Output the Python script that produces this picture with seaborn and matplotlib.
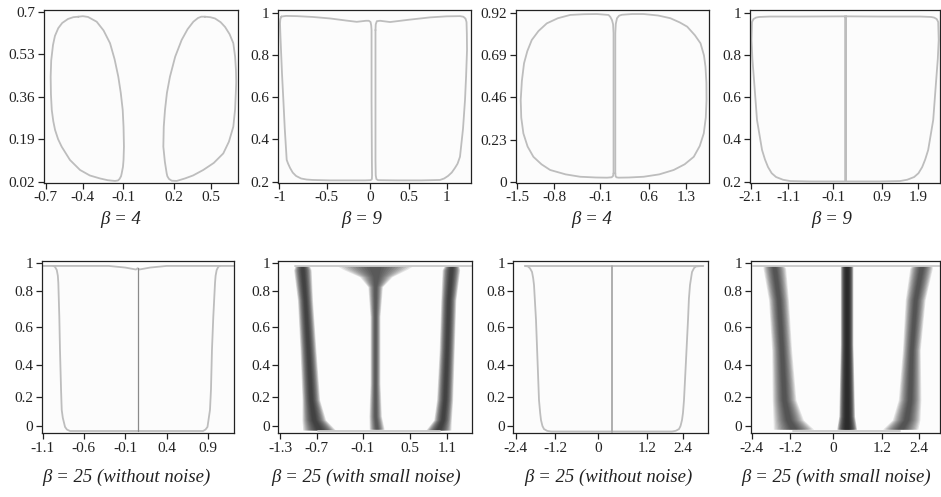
import matplotlib
matplotlib.use('Agg')
import matplotlib.pyplot as plt
import seaborn as sns
import numpy as np

sns.set_style('ticks')
plt.rcParams['font.family'] = ['Liberation Serif', 'DejaVu Serif']

LINE = '#bdbdbd'
DARK = '#222222'
W, H = 941, 497

# ---------- data ----------
# panel 1 : beta = 4, two closed loops
p1_left_x = [-0.463, -0.500, -0.538, -0.580, -0.609, -0.633, -0.647, -0.660, -0.664, -0.662, -0.656,
             -0.645, -0.632, -0.610, -0.584, -0.524, -0.451, -0.380, -0.306, -0.250, -0.197, -0.175,
             -0.164, -0.153, -0.148, -0.139, -0.135, -0.132, -0.135, -0.141, -0.155, -0.173, -0.200,
             -0.233, -0.280, -0.330, -0.393, -0.430]
p1_left_y = [0.680, 0.678, 0.671, 0.655, 0.634, 0.603, 0.567, 0.505, 0.440, 0.370, 0.307,
             0.262, 0.227, 0.190, 0.160, 0.107, 0.067, 0.045, 0.033, 0.026, 0.023, 0.025,
             0.031, 0.042, 0.054, 0.080, 0.107, 0.160, 0.240, 0.307, 0.375, 0.440, 0.510,
             0.574, 0.625, 0.660, 0.679, 0.682]
p1_right_x = [0.456, 0.495, 0.529, 0.570, 0.602, 0.635, 0.662, 0.675, 0.681, 0.683, 0.681, 0.675,
              0.662, 0.630, 0.589, 0.520, 0.444, 0.370, 0.311, 0.251, 0.215, 0.195, 0.183, 0.178,
              0.165, 0.154, 0.157, 0.166, 0.180, 0.202, 0.240, 0.287, 0.330, 0.372, 0.406, 0.430]
p1_right_y = [0.680, 0.678, 0.673, 0.658, 0.639, 0.610, 0.574, 0.520, 0.467, 0.420, 0.387, 0.310,
              0.240, 0.180, 0.133, 0.095, 0.067, 0.045, 0.033, 0.023, 0.024, 0.031, 0.042, 0.054,
              0.100, 0.160, 0.240, 0.307, 0.375, 0.440, 0.520, 0.587, 0.630, 0.660, 0.675, 0.680]

# panel 2 : beta = 9
p2_left_x = [-0.975, -0.920, -0.792, -0.600, -0.394, -0.200, -0.075, 0.036, 0.070, 0.090, 0.098,
             0.102, 0.102, 0.106, 0.108, 0.106, 0.090, 0.024, -0.394, -0.600, -0.673, -0.740,
             -0.800, -0.840, -0.872, -0.895, -0.912, -0.935, -0.952, -0.968, -0.980, -0.988,
             -0.992, -0.988]
p2_left_y = [0.982, 0.985, 0.984, 0.980, 0.973, 0.963, 0.957, 0.962, 0.962, 0.956, 0.940,
             0.918, 0.587, 0.300, 0.230, 0.212, 0.207, 0.206, 0.206, 0.208, 0.210, 0.215,
             0.227, 0.243, 0.265, 0.285, 0.303, 0.450, 0.587, 0.710, 0.823, 0.900,
             0.950, 0.970]
p2_right_x = [0.149, 0.152, 0.165, 0.203, 0.323, 0.550, 0.801, 1.000, 1.159, 1.200, 1.225, 1.237,
              1.241, 1.243, 1.232, 1.219, 1.195, 1.159, 1.130, 1.099, 1.060, 1.016, 0.970,
              0.920, 0.700, 0.403, 0.180, 0.160, 0.152, 0.149, 0.149]
p2_right_y = [0.918, 0.945, 0.960, 0.962, 0.956, 0.967, 0.978, 0.983, 0.984, 0.981, 0.972, 0.956,
              0.900, 0.823, 0.700, 0.587, 0.450, 0.318, 0.285, 0.265, 0.243, 0.227, 0.215,
              0.208, 0.206, 0.206, 0.207, 0.212, 0.230, 0.300, 0.587]

# panel 3 : beta = 4
p3_left_x = [0.093, 0.093, 0.085, 0.067, 0.040, 0.010, -0.182, -0.400, -0.625, -0.830, -1.012,
             -1.150, -1.261, -1.335, -1.389, -1.425, -1.444, -1.435, -1.400, -1.330, -1.234,
             -1.100, -0.957, -0.700, -0.459, -0.200, -0.016, 0.060, 0.083]
p3_left_y = [0.046, 0.811, 0.860, 0.883, 0.900, 0.911, 0.916, 0.915, 0.911, 0.893, 0.865,
             0.823, 0.774, 0.713, 0.647, 0.550, 0.446, 0.350, 0.264, 0.192, 0.136,
             0.095, 0.064, 0.040, 0.027, 0.023, 0.022, 0.024, 0.030]
p3_right_x = [0.122, 0.122, 0.130, 0.150, 0.185, 0.233, 0.400, 0.591, 0.830, 1.034, 1.190,
              1.312, 1.440, 1.533, 1.590, 1.615, 1.630, 1.632, 1.620, 1.587, 1.520, 1.421,
              1.270, 1.089, 0.850, 0.591, 0.350, 0.176, 0.140, 0.127]
p3_right_y = [0.046, 0.811, 0.862, 0.893, 0.907, 0.912, 0.916, 0.916, 0.908, 0.893, 0.870,
              0.847, 0.800, 0.756, 0.690, 0.628, 0.540, 0.446, 0.350, 0.264, 0.195, 0.136,
              0.095, 0.064, 0.040, 0.027, 0.023, 0.022, 0.024, 0.030]

# panel 4 : beta = 9
p4_left_x = [0.151, -0.923, -1.639, -1.900, -1.974, -2.035, -2.069, -2.081, -2.060, -2.021, -1.950,
             -1.830, -1.760, -1.687, -1.600, -1.496, -1.330, -1.162, -0.685, 0.151]
p4_right_x = [0.174, 0.985, 1.941, 2.200, 2.275, 2.335, 2.370, 2.382, 2.360, 2.322, 2.251,
              2.131, 2.060, 1.988, 1.900, 1.797, 1.630, 1.463, 0.985, 0.174]
p4_y = [0.983, 0.982, 0.982, 0.980, 0.977, 0.970, 0.956, 0.871, 0.780, 0.681, 0.492,
        0.350, 0.305, 0.269, 0.240, 0.222, 0.209, 0.203, 0.201, 0.201]

# panel 5 : beta = 25 without noise
p5_top_x = [-1.110, -0.300, -0.100, 0.030, 0.050, 0.070, 0.200, 0.400, 1.218]
p5_top_y = [0.980, 0.980, 0.970, 0.958, 0.966, 0.958, 0.970, 0.980, 0.980]
p5_u_x = [-0.969, -0.950, -0.928, -0.915, -0.909, -0.897, -0.889, -0.876, -0.868, -0.855, -0.828,
          -0.805, -0.768, 0.840, 0.870, 0.894, 0.910, 0.924, 0.936, 0.948, 0.964, 0.985, 0.992,
          1.005, 1.025, 1.045]
p5_u_y = [0.980, 0.975, 0.955, 0.920, 0.876, 0.667, 0.465, 0.221, 0.098, 0.050, -0.006,
          -0.022, -0.031, -0.031, -0.022, -0.006, 0.050, 0.098, 0.221, 0.465, 0.667, 0.876, 0.920,
          0.955, 0.975, 0.980]
p5_mid_x = [0.050, 0.050]
p5_mid_y = [0.966, -0.031]

# panel 6 : beta = 25 with small noise (band centre / half width)
p6_top_x, p6_top_y = [-1.084, 1.457], [0.980, 0.980]
p6_bot_x, p6_bot_y = [-0.750, 1.000], [-0.031, -0.031]
p6_band_y = [0.980, 0.955, 0.770, 0.466, 0.160, 0.037, -0.025]
p6_left_c = [-0.980, -0.977, -0.940, -0.897, -0.856, -0.813, -0.737]
p6_left_w = [0.070, 0.084, 0.072, 0.076, 0.084, 0.113, 0.157]
p6_right_c = [1.170, 1.160, 1.123, 1.100, 1.070, 1.040, 0.980]
p6_right_w = [0.070, 0.084, 0.072, 0.072, 0.077, 0.084, 0.120]
p6_mid_y = [0.980, 0.960, 0.914, 0.853, 0.670, 0.260, 0.060, -0.020]
p6_mid_c = [0.068, 0.068, 0.080, 0.070, 0.068, 0.068, 0.070, 0.092]
p6_mid_w = [0.360, 0.310, 0.156, 0.070, 0.048, 0.048, 0.060, 0.072]

# panel 7 : beta = 25 without noise
p7_top_x, p7_top_y = [-2.134, 2.972], [0.980, 0.980]
p7_u_x = [-2.134, -2.048, -1.990, -1.933, -1.900, -1.876, -1.819, -1.776, -1.733, -1.700, -1.676,
          -1.635, -1.590, -1.500, -1.389, 2.076, 2.180, 2.276, 2.320, 2.362, 2.390, 2.419, 2.477,
          2.534, 2.560, 2.591, 2.649, 2.710, 2.763, 2.972]
p7_u_y = [0.980, 0.977, 0.965, 0.943, 0.905, 0.863, 0.649, 0.404, 0.158, 0.080, 0.036,
          0.000, -0.019, -0.030, -0.034, -0.034, -0.030, -0.019, 0.000, 0.036, 0.080, 0.158, 0.404,
          0.649, 0.780, 0.863, 0.943, 0.968, 0.977, 0.980]
p7_mid_x, p7_mid_y = [0.349, 0.349], [0.980, -0.034]

# panel 8 : beta = 25 with small noise
p8_top_x, p8_top_y = [-2.363, 3.000], [0.980, 0.980]
p8_bot_x, p8_bot_y = [-1.200, 1.870], [-0.031, -0.031]
p8_band_y = [0.980, 0.966, 0.772, 0.466, 0.160, 0.037, -0.020]
p8_left_c = [-1.770, -1.750, -1.630, -1.540, -1.470, -1.350, -1.200]
p8_left_w = [0.200, 0.216, 0.190, 0.190, 0.226, 0.290, 0.385]
p8_right_c = [2.490, 2.470, 2.300, 2.190, 2.140, 2.040, 1.870]
p8_right_w = [0.200, 0.216, 0.190, 0.170, 0.216, 0.264, 0.337]
p8_mid_y = [0.980, 0.500, 0.060, -0.020]
p8_mid_c = [0.330, 0.330, 0.330, 0.330]
p8_mid_w = [0.120, 0.120, 0.150, 0.190]

titles = ['β = 4', 'β = 9', 'β = 4', 'β = 9',
          'β = 25 (without noise)', 'β = 25 (with small noise)',
          'β = 25 (without noise)', 'β = 25 (with small noise)']

# axis limits and ticks (tick marks sit where the original put them)
xlims = [(-0.716, 0.696), (-1.016, 1.287), (-1.527, 1.665), (-2.129, 2.401),
         (-1.110, 1.218), (-1.324, 1.457), (-2.469, 3.115), (-2.429, 3.000)]
xtick_pos = [[-0.7, -0.431, -0.139, 0.231, 0.5], [-1, -0.434, 0.084, 0.553, 1],
             [-1.5, -0.886, -0.127, 0.674, 1.3], [-2.1, -1.203, -0.129, 1.027, 1.9],
             [-1.1, -0.6, -0.1, 0.4, 0.9], [-1.3, -0.772, -0.109, 0.572, 1.1],
             [-2.4, -1.275, -0.035, 1.351, 2.4], [-2.4, -1.297, -0.049, 1.345, 2.4]]
xtick_lab = [['-0.7', '-0.4', '-0.1', '0.2', '0.5'], ['-1', '-0.5', '0', '0.5', '1'],
             ['-1.5', '-0.8', '-0.1', '0.6', '1.3'], ['-2.1', '-1.1', '-0.1', '0.9', '1.9'],
             ['-1.1', '-0.6', '-0.1', '0.4', '0.9'], ['-1.3', '-0.7', '-0.1', '0.5', '1.1'],
             ['-2.4', '-1.2', '0', '1.2', '2.4'], ['-2.4', '-1.2', '0', '1.2', '2.4']]
ylims = [(0.0168, 0.7068), (0.196, 1.013), (-0.0044, 0.938), (0.196, 1.013)] + [(-0.045, 1.012)] * 4
ytick_pos = [[0.02, 0.19, 0.36, 0.53, 0.7], [0.2, 0.4, 0.6, 0.8, 1],
             [0, 0.23, 0.46, 0.69, 0.92], [0.2, 0.4, 0.6, 0.8, 1]] + [[0, 0.18, 0.374, 0.605, 0.829, 1]] * 4
ytick_lab = [['0.02', '0.19', '0.36', '0.53', '0.7'], ['0.2', '0.4', '0.6', '0.8', '1'],
             ['0', '0.23', '0.46', '0.69', '0.92'], ['0.2', '0.4', '0.6', '0.8', '1']] + \
            [['0', '0.2', '0.4', '0.6', '0.8', '1']] * 4

# layout in pixels: (left, right, top, bottom), title centre (x, y)
boxes = [(43.5, 238, 10, 182.5), (278, 470.7, 10, 182.5), (515.7, 708.5, 10, 182.5), (749.5, 939.5, 10, 182.5),
         (41.7, 234.3, 260.7, 433.3), (278.3, 471.5, 260.7, 433.3), (513.3, 708.3, 260.7, 433.3),
         (750.7, 939.5, 260.7, 433.3)]
title_xy = [(121, 220), (361.7, 220), (591.7, 220), (831.7, 220),
            (126.3, 477), (365.8, 477), (608, 477), (835.8, 477)]


def curve(ax, xs, ys, close=False, color=LINE, lw=1.3):
    xs, ys = list(xs), list(ys)
    if close:
        xs, ys = xs + xs[:1], ys + ys[:1]
    sns.lineplot(x=xs, y=ys, sort=False, estimator=None, ax=ax, color=color, lw=lw,
                 solid_joinstyle='round')


def band(ax, ys, cs, ws, strength=1.0):
    # fuzzy band of noisy trajectories: many thin soft layers
    ys, cs, ws = np.array(ys), np.array(cs), np.array(ws)
    for f in np.linspace(1.5, 0.25, 12):
        ax.fill_betweenx(ys, cs - ws * f, cs + ws * f, color=DARK,
                         alpha=min(0.1 * strength, 0.5), lw=0)


fig = plt.figure(figsize=(W / 100, H / 100), dpi=100)
axes = []
for (x0, x1, yt, yb) in boxes:
    ax = fig.add_axes([x0 / W, 1 - yb / H, (x1 - x0) / W, (yb - yt) / H])
    axes.append(ax)

a = axes
curve(a[0], p1_left_x, p1_left_y, close=True)
curve(a[0], p1_right_x, p1_right_y, close=True)
curve(a[1], p2_left_x, p2_left_y, close=True)
curve(a[1], p2_right_x, p2_right_y, close=True)
curve(a[2], p3_left_x, p3_left_y, close=True)
curve(a[2], p3_right_x, p3_right_y, close=True)
curve(a[3], p4_left_x, p4_y, close=True)
curve(a[3], p4_right_x, p4_y, close=True)

curve(a[4], p5_top_x, p5_top_y)
curve(a[4], p5_u_x, p5_u_y)
curve(a[4], p5_mid_x, p5_mid_y, color='#8a8a8a', lw=0.9)

curve(a[5], p6_top_x, p6_top_y, color='#c8c8c8')
curve(a[5], p6_bot_x, p6_bot_y, color='#c8c8c8')
band(a[5], p6_band_y, p6_left_c, p6_left_w, 1.4)
band(a[5], p6_band_y, p6_right_c, p6_right_w, 1.4)
band(a[5], p6_mid_y, p6_mid_c, p6_mid_w, 1.0)

curve(a[6], p7_top_x, p7_top_y)
curve(a[6], p7_u_x, p7_u_y)
curve(a[6], p7_mid_x, p7_mid_y, color='#a8a8a8', lw=1.3)

curve(a[7], p8_top_x, p8_top_y, color='#c8c8c8')
curve(a[7], p8_bot_x, p8_bot_y, color='#c8c8c8')
band(a[7], p8_band_y, p8_left_c, p8_left_w, 1.1)
band(a[7], p8_band_y, p8_right_c, p8_right_w, 1.1)
band(a[7], p8_mid_y, p8_mid_c, p8_mid_w, 2.2)

for i, ax in enumerate(axes):
    ax.set_facecolor('#fcfcfc')
    ax.set_xlim(*xlims[i])
    ax.set_ylim(*ylims[i])
    ax.set_xticks(xtick_pos[i])
    ax.set_xticklabels(xtick_lab[i])
    ax.set_yticks(ytick_pos[i])
    ax.set_yticklabels(ytick_lab[i])
    ax.set(xlabel='', ylabel='')
    for s in ax.spines.values():
        s.set_visible(True)
        s.set_linewidth(0.9)
        s.set_color('#222222')
    ax.tick_params(direction='out', length=4, width=0.9, labelsize=11, pad=2,
                   top=False, right=False, colors='#222222')
    tx, ty = title_xy[i]
    fig.text(tx / W, 1 - ty / H, titles[i], ha='center', va='center',
             fontsize=13.5, style='italic', color='#222222')

fig.savefig('out.png', dpi=100)
plt.close(fig)
